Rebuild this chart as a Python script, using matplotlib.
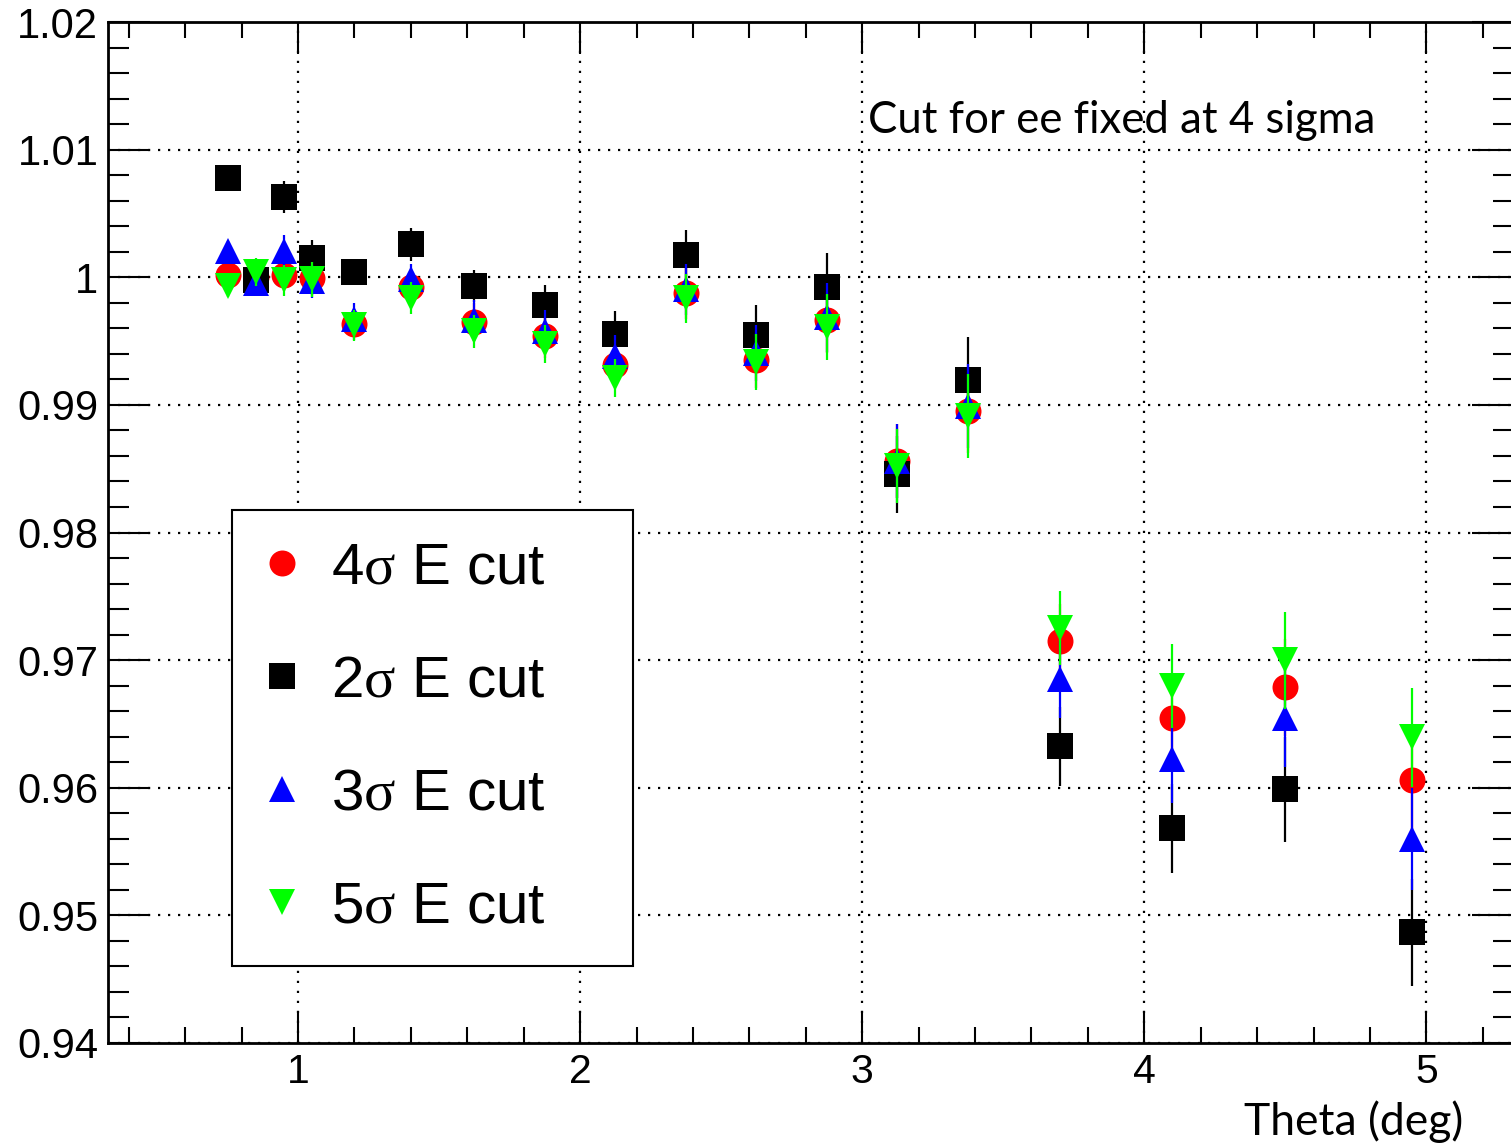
import matplotlib
matplotlib.use("Agg")
import matplotlib.pyplot as plt
from matplotlib.lines import Line2D
from matplotlib.ticker import MultipleLocator, FuncFormatter

# Polar angle bins (deg)
theta = [0.75, 0.85, 0.95, 1.05, 1.2, 1.4, 1.625, 1.875, 2.125, 2.375,
         2.625, 2.875, 3.125, 3.375, 3.7, 4.1, 4.5, 4.95]

# Ratio per energy-cut setting, with statistical errors
ratio_4sig = [1.00016, 1.0, 1.00016, 0.99992, 0.99632, 0.99922, 0.99647, 0.99538, 0.99310,
              0.99875, 0.99350, 0.99663, 0.98558, 0.98950, 0.97147, 0.96544, 0.96787, 0.96058]
err_4sig = [0.0008, 0.0009, 0.0012, 0.0013, 0.0012, 0.0012, 0.0015, 0.0017, 0.0017,
            0.0020, 0.0022, 0.0026, 0.0029, 0.0033, 0.0029, 0.0034, 0.0038, 0.0038]

ratio_2sig = [1.00776, 0.99976, 1.00627, 1.00149, 1.00039, 1.00259, 0.99929, 0.99781, 0.99553,
              1.00172, 0.99545, 0.99922, 0.98456, 0.99193, 0.96325, 0.95683, 0.95987, 0.94867]
err_2sig = [0.0008, 0.0010, 0.00125, 0.0014, 0.0009, 0.0013, 0.00125, 0.0016, 0.0018,
            0.0020, 0.0024, 0.0027, 0.0030, 0.0034, 0.0031, 0.0035, 0.0041, 0.0042]

ratio_3sig = [1.00204, 0.99953, 1.00204, 0.99969, 0.99671, 0.99984, 0.99663, 0.99577, 0.99381,
              0.99906, 0.99404, 0.99687, 0.98558, 0.98989, 0.96850, 0.96223, 0.96544, 0.95596]
err_3sig = [0.0008, 0.0009, 0.00125, 0.0013, 0.00125, 0.0012, 0.0016, 0.0017, 0.0017,
            0.0020, 0.0022, 0.0027, 0.0029, 0.0033, 0.0030, 0.0034, 0.0038, 0.0040]

ratio_5sig = [0.99929, 1.00039, 0.99976, 0.99984, 0.99624, 0.99835, 0.99577, 0.99475, 0.99208,
              0.99835, 0.99334, 0.99608, 0.98519, 0.98911, 0.97249, 0.96795, 0.96998, 0.96395]
err_5sig = [0.0008, 0.0011, 0.0012, 0.00137, 0.0012, 0.00125, 0.0013, 0.0015, 0.0015,
            0.0019, 0.0022, 0.0026, 0.0029, 0.0033, 0.0029, 0.0033, 0.0038, 0.0039]

labels = [r"4$\sigma$ E cut", r"2$\sigma$ E cut", r"3$\sigma$ E cut", r"5$\sigma$ E cut"]
ytick_vals = [0.94, 0.95, 0.96, 0.97, 0.98, 0.99, 1.0, 1.01, 1.02]
xtick_vals = [1, 2, 3, 4, 5]

plt.rcParams["mathtext.fontset"] = "custom"
plt.rcParams["mathtext.it"] = "Liberation Serif"
plt.rcParams["mathtext.rm"] = "Liberation Serif"

W, H = 1511, 1145
fig = plt.figure(figsize=(W / 100, H / 100), dpi=100)
ax_left, ax_right, ax_top, ax_bot = 108, 1513.8, 22, 1043
ax_w, ax_h = ax_right - ax_left, ax_bot - ax_top
ax = fig.add_axes([ax_left / W, (H - ax_bot) / H, ax_w / W, ax_h / H])
ax.set_xlim(0.3262, 5.31)
ax.set_ylim(0.94, 1.02)

series = [
    (ratio_4sig, err_4sig, "o", (1, 0, 0), 3),
    (ratio_2sig, err_2sig, "s", (0, 0, 0), 4),
    (ratio_3sig, err_3sig, "^", (0, 0, 1), 5),
    (ratio_5sig, err_5sig, "v", (0, 1, 0), 6),
]
ms = 18.7
handles = []
for (vals, errs, mk, col, z), lab in zip(series, labels):
    ax.errorbar(theta, vals, yerr=errs, fmt=mk, color=col, ms=ms, mew=0,
                ecolor=col, elinewidth=1.6, capsize=3.6, capthick=1.8, zorder=z)
    handles.append(Line2D([], [], ls="none", marker=mk, color=col, ms=ms, mew=0))

# axis styling
ax.xaxis.set_minor_locator(MultipleLocator(0.2))
ax.yaxis.set_minor_locator(MultipleLocator(0.002))
ax.set_xticks(xtick_vals)
ax.set_yticks(ytick_vals)
ax.yaxis.set_major_formatter(FuncFormatter(lambda v, p: "%g" % round(v, 4)))
ax.xaxis.set_major_formatter(FuncFormatter(lambda v, p: "%g" % v))

for s in ax.spines.values():
    s.set_linewidth(2.0)
ax.tick_params(axis="both", which="both", direction="in", top=True, right=True, width=1.5)
ax.tick_params(axis="x", which="major", length=23, pad=7, labelsize=29.5)
ax.tick_params(axis="x", which="minor", length=11.5)
ax.tick_params(axis="y", which="major", length=30, pad=7, labelsize=30)
ax.tick_params(axis="y", which="minor", length=15)
for lab in ax.get_xticklabels() + ax.get_yticklabels():
    lab.set_fontfamily("Liberation Sans")

ax.grid(True, which="major", color="black", linestyle=(0, (1, 3.5)), linewidth=1.6, zorder=1)
ax.set_axisbelow(True)

ax.set_xlabel("Theta (deg)", fontsize=32, fontfamily="Lato", ha="right", va="baseline")
ax.xaxis.set_label_coords((1463 - ax_left) / ax_w, (ax_bot - 1135) / ax_h)

ax.text((868 - ax_left) / ax_w, (ax_bot - 133) / ax_h,
        "Cut for ee fixed at 4 sigma", transform=ax.transAxes, fontsize=31.5,
        fontfamily="Lato", ha="left", va="baseline")

leg_x0, leg_y0, leg_x1, leg_y1 = 232, 510, 633, 963
leg = ax.legend(handles, labels, loc="upper left",
                bbox_to_anchor=((leg_x0 - ax_left) / ax_w,
                                (ax_bot - leg_y1) / ax_h,
                                (leg_x1 - leg_x0) / ax_w,
                                (leg_y1 - leg_y0) / ax_h),
                mode="expand", borderaxespad=0, fancybox=False, framealpha=1,
                edgecolor="black", prop={"family": "Liberation Sans", "size": 42},
                handlelength=0.624, handletextpad=0.533, borderpad=0.537, labelspacing=1.014)
leg.get_frame().set_linewidth(1.5)
leg.set_zorder(10)

fig.savefig("out.png", dpi=100)
